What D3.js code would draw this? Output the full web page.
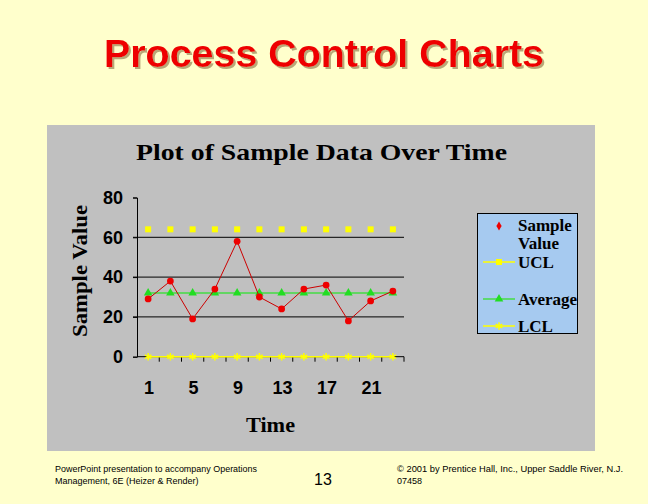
<!DOCTYPE html>
<html>
<head>
<meta charset="utf-8">
<script src="https://cdn.jsdelivr.net/npm/d3@7"></script>
<style>
  body { margin: 0; background: #ffffcc; }
  svg { display: block; }
</style>
</head>
<body>
<svg id="chart" width="648" height="504"></svg>
<script>
// sample numbers (every other sample shown)
const samples = ["1", "3", "5", "7", "9", "11", "13", "15", "17", "19", "21", "23"];
// measured sample values
const sampleValues = [29, 38, 19, 34, 58, 30, 24, 34, 36, 18, 28, 33];
// control limits
const ucl = [64, 64, 64, 64, 64, 64, 64, 64, 64, 64, 64, 64];
const average = [32, 32, 32, 32, 32, 32, 32, 32, 32, 32, 32, 32];
const lcl = [0, 0, 0, 0, 0, 0, 0, 0, 0, 0, 0, 0];
const yTicks = [0, 20, 40, 60, 80];
const xLabels = ["1", "5", "9", "13", "17", "21"];
const legendNames = ["Sample Value", "UCL", "Average", "LCL"];

const serif = "'Liberation Serif', 'Times New Roman', serif";
const sans = "'Liberation Sans', Arial, sans-serif";

let svg = d3.select("#chart");

// drop shadow for the slide title
let shadow = svg.append("defs").append("filter")
    .attr("id", "shadow")
    .attr("x", "-5%").attr("y", "-20%")
    .attr("width", "110%").attr("height", "150%");
shadow.append("feDropShadow")
    .attr("dx", 2).attr("dy", 2)
    .attr("stdDeviation", 0.6)
    .attr("flood-color", "#b8a878").attr("flood-opacity", 1);

svg.append("text")
    .attr("x", 324).attr("y", 67)
    .attr("text-anchor", "middle")
    .attr("font-family", sans).attr("font-weight", "bold")
    .attr("font-size", 38).attr("fill", "#ee0000")
    .attr("textLength", 440).attr("lengthAdjust", "spacingAndGlyphs")
    .attr("filter", "url(#shadow)")
    .text("Process Control Charts");

// gray chart panel
svg.append("rect")
    .attr("x", 47).attr("y", 125)
    .attr("width", 548).attr("height", 326)
    .attr("fill", "#c0c0c0");

svg.append("text")
    .attr("x", 136).attr("y", 160)
    .attr("font-family", serif).attr("font-weight", "bold")
    .attr("font-size", 23).attr("fill", "#000")
    .attr("textLength", 371).attr("lengthAdjust", "spacingAndGlyphs")
    .text("Plot of Sample Data Over Time");

// scales
let x = d3.scaleBand()
    .domain(samples)
    .range([137, 404]);

let y = d3.scaleLinear()
    .domain([0, 80])
    .range([356.7, 197.5]);

let px = function (d, i) { return x(samples[i]) + x.bandwidth() / 2; };

// gridlines
svg.append("g")
    .selectAll("line")
    .data([20, 40, 60])
    .enter().append("line")
    .attr("x1", 133).attr("x2", 404)
    .attr("y1", d => y(d)).attr("y2", d => y(d))
    .attr("stroke", "#000").attr("stroke-width", 1);

// y axis
let yAxis = svg.append("g")
    .attr("transform", "translate(137,0)")
    .call(d3.axisLeft(y).tickValues(yTicks).tickSize(4).tickPadding(10));
yAxis.select(".domain").attr("stroke", "#000");
yAxis.selectAll("text")
    .attr("font-family", sans).attr("font-weight", "bold")
    .attr("font-size", 18).attr("fill", "#000");

// x axis, ticks between categories
let xAxis = svg.append("g")
    .attr("transform", "translate(0," + y(0) + ")");
xAxis.append("line")
    .attr("x1", 137).attr("x2", 404)
    .attr("y1", 0).attr("y2", 0)
    .attr("stroke", "#000");
xAxis.selectAll(".tick")
    .data(samples)
    .enter().append("line")
    .attr("x1", d => x(d) + x.bandwidth()).attr("x2", d => x(d) + x.bandwidth())
    .attr("y1", 0).attr("y2", 5)
    .attr("stroke", "#000");
xAxis.selectAll(".lbl")
    .data(xLabels)
    .enter().append("text")
    .attr("x", d => x(d) + x.bandwidth() / 2 + 1)
    .attr("y", 37)
    .attr("text-anchor", "middle")
    .attr("font-family", sans).attr("font-weight", "bold")
    .attr("font-size", 18).attr("fill", "#000")
    .text(d => d);

// axis titles
svg.append("text")
    .attr("transform", "translate(87,337) rotate(-90)")
    .attr("font-family", serif).attr("font-weight", "bold")
    .attr("font-size", 21).attr("fill", "#000")
    .attr("textLength", 132).attr("lengthAdjust", "spacingAndGlyphs")
    .text("Sample Value");
svg.append("text")
    .attr("x", 246).attr("y", 432)
    .attr("font-family", serif).attr("font-weight", "bold")
    .attr("font-size", 21).attr("fill", "#000")
    .attr("textLength", 49).attr("lengthAdjust", "spacingAndGlyphs")
    .text("Time");

// LCL line and star markers
svg.append("path")
    .datum(lcl)
    .attr("d", d3.line().x(px).y(d => y(d)))
    .attr("fill", "none").attr("stroke", "#ffff00").attr("stroke-width", 1.5);
let star = d3.symbol().type(d3.symbolAsterisk).size(40);
svg.append("g").selectAll("path")
    .data(lcl)
    .enter().append("path")
    .attr("d", star)
    .attr("transform", (d, i) => "translate(" + px(d, i) + "," + y(d) + ")")
    .attr("fill", "none").attr("stroke", "#ffff00").attr("stroke-width", 1.5);

// UCL markers
svg.append("g").selectAll("rect")
    .data(ucl)
    .enter().append("rect")
    .attr("x", (d, i) => px(d, i) - 3).attr("y", d => y(d) - 3)
    .attr("width", 6).attr("height", 6)
    .attr("fill", "#ffff00");

// average line and triangles
svg.append("path")
    .datum(average)
    .attr("d", d3.line().x(px).y(d => y(d)))
    .attr("fill", "none").attr("stroke", "#44dd44").attr("stroke-width", 1.5);
let tri = d3.symbol().type(d3.symbolTriangle).size(32);
svg.append("g").selectAll("path")
    .data(average)
    .enter().append("path")
    .attr("d", tri)
    .attr("transform", (d, i) => "translate(" + px(d, i) + "," + y(d) + ")")
    .attr("fill", "#22dd22");

// sample values
svg.append("path")
    .datum(sampleValues)
    .attr("d", d3.line().x(px).y(d => y(d)))
    .attr("fill", "none").attr("stroke", "#cc0000").attr("stroke-width", 1);
let dot = d3.symbol().type(d3.symbolCircle).size(36);
svg.append("g").selectAll("path")
    .data(sampleValues)
    .enter().append("path")
    .attr("d", dot)
    .attr("transform", (d, i) => "translate(" + px(d, i) + "," + y(d) + ")")
    .attr("fill", "#ee0000");

// legend
let legend = svg.append("g");
legend.append("rect")
    .attr("x", 477.5).attr("y", 213.5)
    .attr("width", 100).attr("height", 120)
    .attr("fill", "#a6caf0").attr("stroke", "#000").attr("stroke-width", 1);

let lx = 499;
let tx = 518;
let legendFont = function (sel) {
    return sel.attr("font-family", serif).attr("font-weight", "bold")
        .attr("font-size", 17).attr("fill", "#000");
};
// Sample Value
legend.append("path")
    .attr("d", d3.symbol().type(d3.symbolDiamond).size(24))
    .attr("transform", "translate(" + lx + ",226)")
    .attr("fill", "#ee0000");
legend.append("text").attr("x", tx).attr("y", 231).call(legendFont).text("Sample");
legend.append("text").attr("x", tx).attr("y", 249).call(legendFont).text("Value");
// UCL
legend.append("line").attr("x1", 483).attr("x2", 515).attr("y1", 262).attr("y2", 262)
    .attr("stroke", "#ffff00").attr("stroke-width", 1.5);
legend.append("rect").attr("x", lx - 3).attr("y", 259).attr("width", 6).attr("height", 6)
    .attr("fill", "#ffff00");
legend.append("text").attr("x", tx).attr("y", 268).call(legendFont).text(legendNames[1]);
// Average
legend.append("line").attr("x1", 483).attr("x2", 515).attr("y1", 299).attr("y2", 299)
    .attr("stroke", "#44dd44").attr("stroke-width", 1.5);
legend.append("path").attr("d", tri).attr("transform", "translate(" + lx + ",299)")
    .attr("fill", "#22dd22");
legend.append("text").attr("x", tx).attr("y", 305).call(legendFont).text(legendNames[2]);
// LCL
legend.append("line").attr("x1", 483).attr("x2", 515).attr("y1", 326).attr("y2", 326)
    .attr("stroke", "#ffff00").attr("stroke-width", 1.5);
legend.append("path").attr("d", star).attr("transform", "translate(" + lx + ",326)")
    .attr("fill", "none").attr("stroke", "#ffff00").attr("stroke-width", 1.5);
legend.append("text").attr("x", tx).attr("y", 332).call(legendFont).text(legendNames[3]);

// footer
let foot = function (sel) {
    return sel.attr("font-family", sans).attr("font-size", 9).attr("fill", "#000");
};
svg.append("text").attr("x", 55).attr("y", 472).call(foot)
    .attr("textLength", 202).attr("lengthAdjust", "spacingAndGlyphs")
    .text("PowerPoint presentation to accompany Operations");
svg.append("text").attr("x", 55).attr("y", 484).call(foot)
    .text("Management, 6E (Heizer & Render)");
svg.append("text").attr("x", 323).attr("y", 485)
    .attr("text-anchor", "middle")
    .attr("font-family", sans).attr("font-size", 16).attr("fill", "#000")
    .text("13");
svg.append("text").attr("x", 397).attr("y", 472).call(foot)
    .attr("textLength", 226).attr("lengthAdjust", "spacingAndGlyphs")
    .text("\u00a9 2001 by Prentice Hall, Inc.,  Upper Saddle River, N.J.");
svg.append("text").attr("x", 397).attr("y", 484).call(foot)
    .text("07458");
</script>
</body>
</html>
